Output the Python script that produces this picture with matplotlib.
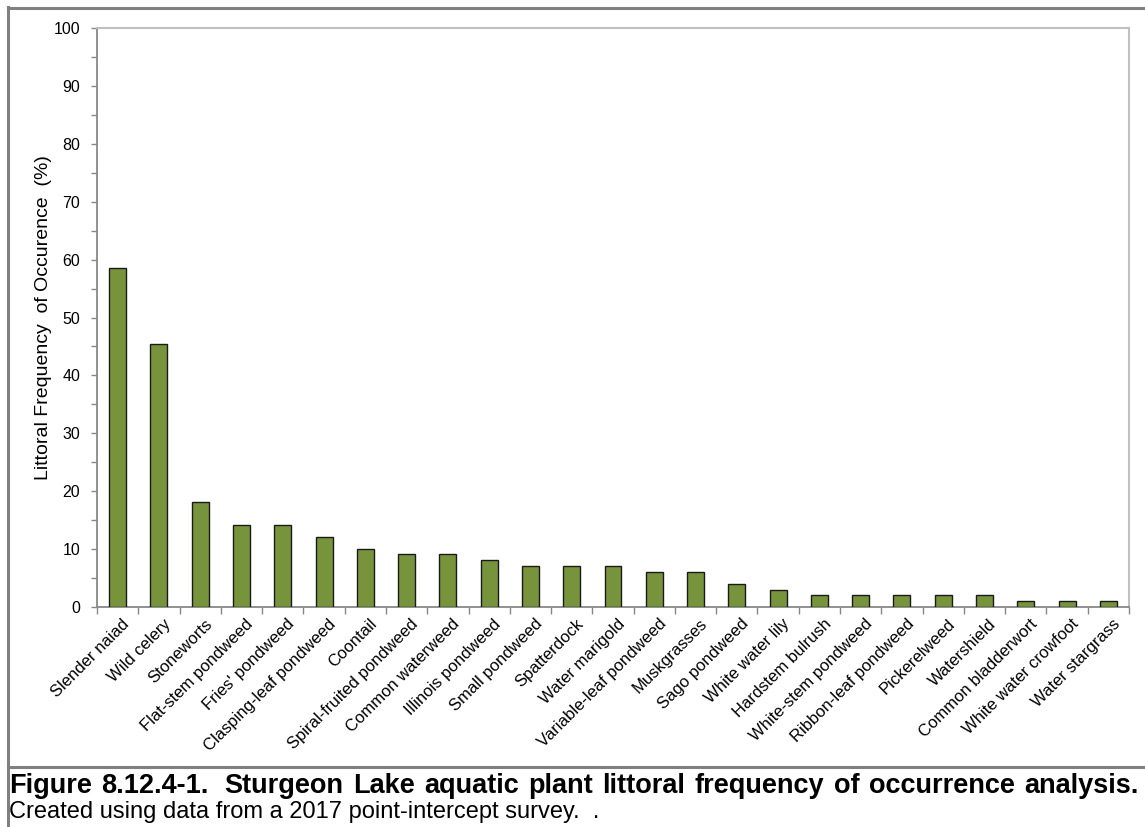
import matplotlib
matplotlib.use("Agg")
import matplotlib.pyplot as plt
from matplotlib.lines import Line2D
from matplotlib.ticker import MultipleLocator

plt.rcParams["font.family"] = ["Liberation Sans", "DejaVu Sans"]

# ── Data ──────────────────────────────────────────────
species = [
    "Slender naiad", "Wild celery", "Stoneworts", "Flat-stem pondweed",
    "Fries' pondweed", "Clasping-leaf pondweed", "Coontail",
    "Spiral-fruited pondweed", "Common waterweed", "Illinois pondweed",
    "Small pondweed", "Spatterdock", "Water marigold", "Variable-leaf pondweed",
    "Muskgrasses", "Sago pondweed", "White water lily", "Hardstem bulrush",
    "White-stem pondweed", "Ribbon-leaf pondweed", "Pickerelweed",
    "Watershield", "Common bladderwort", "White water crowfoot", "Water stargrass",
]
freq = [
    58.6, 45.5, 18.2, 14.1, 14.1, 12.1, 10.1, 9.1, 9.1, 8.1, 7.1, 7.1, 7.1,
    6.1, 6.1, 4.0, 3.0, 2.0, 2.0, 2.0, 2.0, 2.0, 1.0, 1.0, 1.0,
]
y_ticks = [0, 10, 20, 30, 40, 50, 60, 70, 80, 90, 100]

caption_bold = "Figure 8.12.4-1.  Sturgeon Lake aquatic plant littoral frequency of occurrence analysis."
caption_text = "Created using data from a 2017 point-intercept survey.  ."

W, H = 1145, 827
fig = plt.figure(figsize=(W / 100, H / 100), dpi=100)


def px(xp, yp):
    return xp / W, 1 - yp / H


# plot area in pixel coordinates
left, right, top, bottom = 97, 1129, 28, 607
ax = fig.add_axes([left / W, 1 - bottom / H, (right - left) / W, (bottom - top) / H])

x = list(range(len(species)))
ax.bar(x, freq, width=0.41, color="#77933c", edgecolor="#1a1a1a", linewidth=1.0, zorder=3)

ax.set_xlim(-0.5, len(species) - 0.5)
ax.set_ylim(0, 100)
ax.set_yticks(y_ticks)
ax.set_yticklabels([str(v) for v in y_ticks], fontsize=11.5)
ax.yaxis.set_minor_locator(MultipleLocator(5))
ax.tick_params(axis="y", which="both", direction="out", length=4, width=1,
               color="#888888", pad=8)

# category boundary ticks on x axis
ax.set_xticks([i - 0.5 for i in range(len(species) + 1)])
ax.set_xticklabels([])
ax.tick_params(axis="x", direction="out", length=5, width=1, color="#888888")
for i, name in enumerate(species):
    ax.text(i + 0.1, -1.6, name, rotation=45, ha="right", va="top",
            rotation_mode="anchor", fontsize=12)

for side in ["left", "bottom"]:
    ax.spines[side].set_color("#888888")
    ax.spines[side].set_linewidth(1.3)
for side in ["top", "right"]:
    ax.spines[side].set_color("#c0c0c0")
    ax.spines[side].set_linewidth(1.5)

ax.set_ylabel("Littoral Frequency  of Occurence  (%)", fontsize=14, labelpad=1)

# ── outer frame ───────────────────────────────────────
frame = "#808080"
fig.add_artist(Line2D([px(8, 0)[0], 1.0], [px(0, 7.5)[1]] * 2, color=frame, lw=2.2))
fig.add_artist(Line2D([px(8, 0)[0]] * 2, [px(0, 7)[1], 0.0], color=frame, lw=2.2))
fig.add_artist(Line2D([px(8, 0)[0], 1.0], [px(0, 767)[1]] * 2, color=frame, lw=2.2))

# ── caption: first line justified across the full width ──
renderer = fig.canvas.get_renderer()
words = [w for w in caption_bold.split(" ") if w]
items = [fig.text(*px(9, 786), w, fontsize=19.5, fontweight="bold", va="center", ha="left")
         for w in words]
widths = [t.get_window_extent(renderer).width for t in items]
x0, x1, extra = 9, 1139, 6      # extra: double space after the figure number
gap = (x1 - x0 - extra - sum(widths)) / (len(items) - 1)
xp = x0
for i, (t, wd) in enumerate(zip(items, widths)):
    t.set_x(xp / W)
    xp += wd + gap + (extra if i == 1 else 0)

fig.text(*px(9, 812), caption_text, fontsize=17, va="center", ha="left")

fig.savefig("out.png", dpi=100, facecolor="white")
